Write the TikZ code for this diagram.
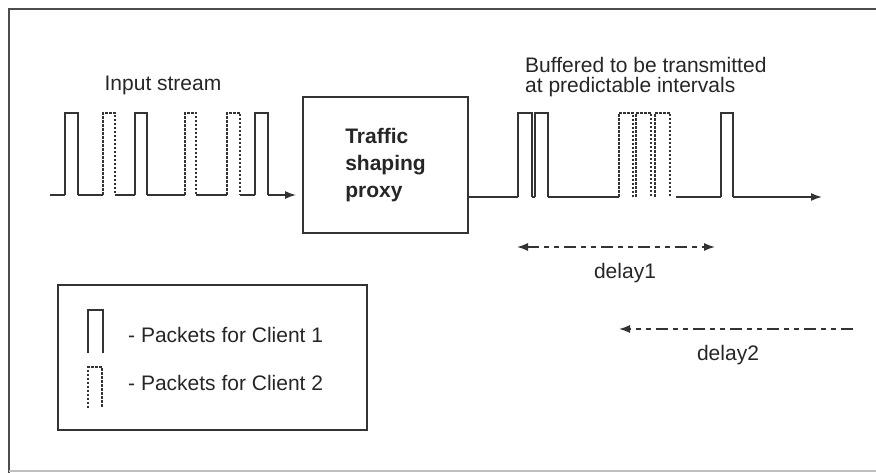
\documentclass[tikz,border=0pt]{standalone}
\usepackage{fontspec}
\setmainfont{Liberation Sans}
\usetikzlibrary{arrows.meta}
\tikzset{
  sig/.style={line width=1.6pt, black!80},
  client2/.style={dash pattern=on 2.5pt off 1.5pt},
  delayline/.style={line width=1.4pt, black!80, dash pattern=on 12pt off 5pt on 5pt off 5pt on 5pt off 5pt},
  lbl/.style={text=black!85, inner sep=0pt}
}
\begin{document}
\begin{tikzpicture}[x=1pt,y=-1pt,font=\fontsize{21}{27}\selectfont,>={Latex[length=11pt,width=8pt]}]
			%%%%% FRAME %%%%%
			\useasboundingbox (0,0) rectangle (876,473);
			\draw[line width=2pt, black!70] (9,473) -- (9,9) -- (876,9);
			\draw[line width=1.5pt, black!25] (9,471) -- (876,471);
			
			%%%%% PROXY %%%%%
			\node[draw, line width=1.8pt, black!80, minimum width=165pt, minimum height=136pt,
			      align=left, font=\fontsize{21}{27}\selectfont\bfseries, text=black!85] (proxy) at (385.5,165) {Traffic\\shaping\\proxy};
			
			%%%%% INPUT STREAM %%%%%
			\node[lbl] (input) at (163,85) {Input stream};
			\draw[sig] (50,195) -- (65,195) (78,195) -- (103,195) (115,195) -- (135,195)
			           (147,195) -- (185,195) (196,195) -- (227,195) (240,195) -- (255,195);
			\foreach \a/\b in {65/78,135/147,255/268}
			  \draw[sig] (\a,195) |- (\b,113) -- (\b,195);
			\foreach \a/\b in {103/115,185/196,227/240}
			  \draw[sig,client2] (\a,195) |- (\b,113) -- (\b,195);
			\draw[sig,->] (268,195) -- ([xshift=-6pt]proxy.west |- 0,195);
			
			%%%%% OUTPUT STREAM %%%%%
			\node[lbl, align=left, anchor=north west, font=\fontsize{21}{20}\selectfont] (buffered) at (525,57) {Buffered to be transmitted\\at predictable intervals};
			\draw[sig] (proxy.east |- 0,197) -- (518,197) (532,197) -- (535,197)
			           (548,197) -- (619,197) (676,197) -- (721,197);
			\foreach \a/\b in {518/532,535/548,721/733}
			  \draw[sig] (\a,197) |- (\b,113) -- (\b,197);
			\foreach \a/\b in {619/633,636/651,655/670}
			  \draw[sig,client2] (\a,197) |- (\b,113) -- (\b,197);
			\draw[sig,->] (733,197) -- (822,197);
			
			%%%%% DELAYS %%%%%
			\coordinate (d1a) at (517,247);
			\coordinate (d1b) at (715,247);
			\draw[delayline,<->] (d1a) -- (d1b);
			\node[lbl] (delayone) at (625,273) {delay1};
			
			\coordinate (d2a) at (853,329);
			\coordinate (d2b) at (619,329);
			\draw[delayline,->] (d2a) -- (d2b);
			\node[lbl] (delaytwo) at (728,355) {delay2};
			
			%%%%% LEGEND %%%%%
			\draw[line width=2pt, black!80] (58,285) rectangle (367,430);
			\draw[sig] (88,353) |- (103,310) -- (103,353);
			\draw[sig,client2] (88,408) |- (102,367) -- (102,408);
			\node[lbl, anchor=west] (client1) at (128,335) {- Packets for Client 1};
			\node[lbl, anchor=west] (client2) at (128,383) {- Packets for Client 2};
			
			%%%%% END %%%%%
\end{tikzpicture}
\end{document}
